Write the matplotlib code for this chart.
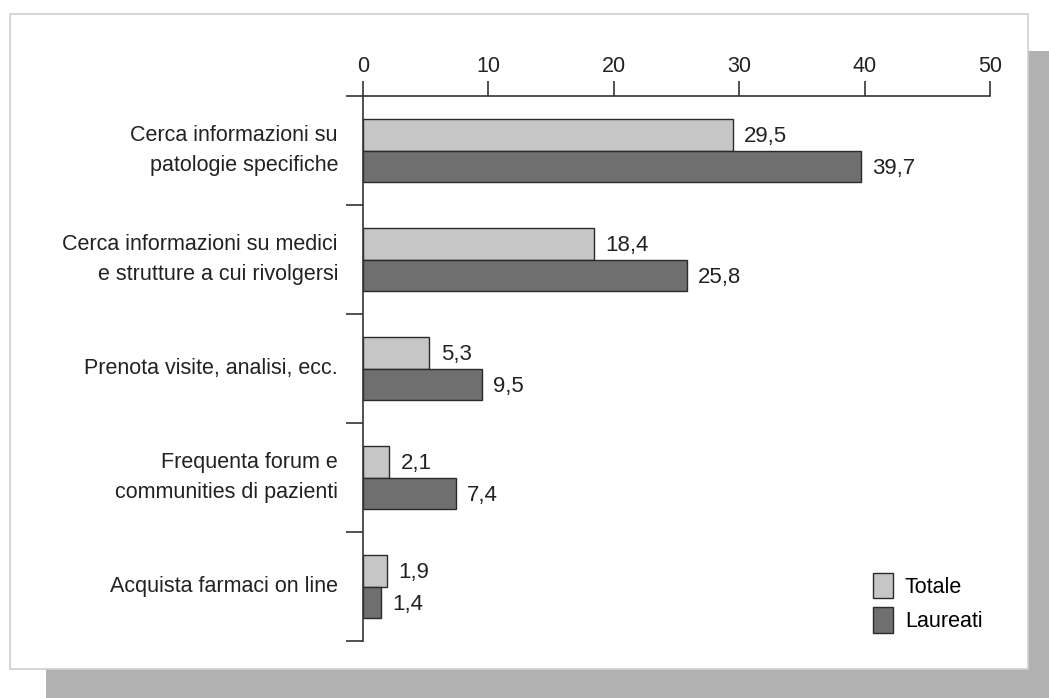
import matplotlib
matplotlib.use("Agg")
import matplotlib.pyplot as plt
from matplotlib.patches import Rectangle
from matplotlib.transforms import blended_transform_factory
import numpy as np

categories = ["Cerca informazioni su\npatologie specifiche",
              "Cerca informazioni su medici\ne strutture a cui rivolgersi",
              "Prenota visite, analisi, ecc.",
              "Frequenta forum e\ncommunities di pazienti",
              "Acquista farmaci on line"]
totale = [29.5, 18.4, 5.3, 2.1, 1.9]
laureati = [39.7, 25.8, 9.5, 7.4, 1.4]
series_names = ["Totale", "Laureati"]
xticks = [0, 10, 20, 30, 40, 50]

plt.rcParams['font.family'] = ['Liberation Sans', 'DejaVu Sans']
W, H = 1049, 698
FS = 15.5
fig = plt.figure(figsize=(W/100, H/100), dpi=100)

# ombra grigia + pannello bianco
fig.patches.append(Rectangle((46/W, 0), 1-46/W, 1-51/H, transform=fig.transFigure,
                             facecolor="#b1b1b1", edgecolor="none", zorder=0))
fig.patches.append(Rectangle((10/W, 1-669/H), (1028-10)/W, (669-14)/H, transform=fig.transFigure,
                             facecolor="white", edgecolor="#d0d0d0", lw=1.2, zorder=1))

ax = fig.add_axes([363/W, 1-641/H, (990-363)/W, (641-96)/H])
ax.set_zorder(2)
ax.patch.set_alpha(0)

y = np.arange(len(categories)) + 0.5
h = 0.29
c_tot, c_lau = "#c6c6c6", "#6f6f6f"
b1 = ax.barh(y - h/2, totale, height=h, color=c_tot, edgecolor="#2a2a2a", lw=1.0, label=series_names[0])
b2 = ax.barh(y + h/2, laureati, height=h, color=c_lau, edgecolor="#2a2a2a", lw=1.0, label=series_names[1])
for bars, vals in ((b1, totale), (b2, laureati)):
    for r, v in zip(bars, vals):
        ax.text(v + 0.9, r.get_y() + r.get_height()/2 + 0.02, f"{v:.1f}".replace(".", ","),
                va="center", ha="left", fontsize=16, color="#222")

ax.set_xlim(0, 50)
ax.set_ylim(len(categories), 0)
ax.xaxis.tick_top()
ax.set_xticks(xticks)
ax.tick_params(axis="x", direction="out", length=11, width=1.2, colors="#333",
               labelsize=FS, pad=3, labelcolor="#222")
ax.set_yticks(np.arange(len(categories) + 1))
ax.set_yticklabels([])
ax.tick_params(axis="y", direction="out", length=12, width=1.2, colors="#333")

# etichette delle categorie
tr = blended_transform_factory(ax.transAxes, ax.transData)
for yi, lab in zip(y, categories):
    ax.text(-25/627, yi, lab, transform=tr, ha="right", va="center",
            fontsize=FS, color="#222", linespacing=1.55)

for s in ("right", "bottom"):
    ax.spines[s].set_visible(False)
for s in ("top", "left"):
    ax.spines[s].set_linewidth(1.2)
    ax.spines[s].set_color("#333")

leg = ax.legend(loc="lower right", bbox_to_anchor=(1.012, -0.013), frameon=False, fontsize=FS,
                handlelength=0.95, handleheight=1.45, handletextpad=0.55, labelspacing=0.42,
                borderaxespad=0.3)

fig.savefig("out.png", dpi=100, facecolor="white")
